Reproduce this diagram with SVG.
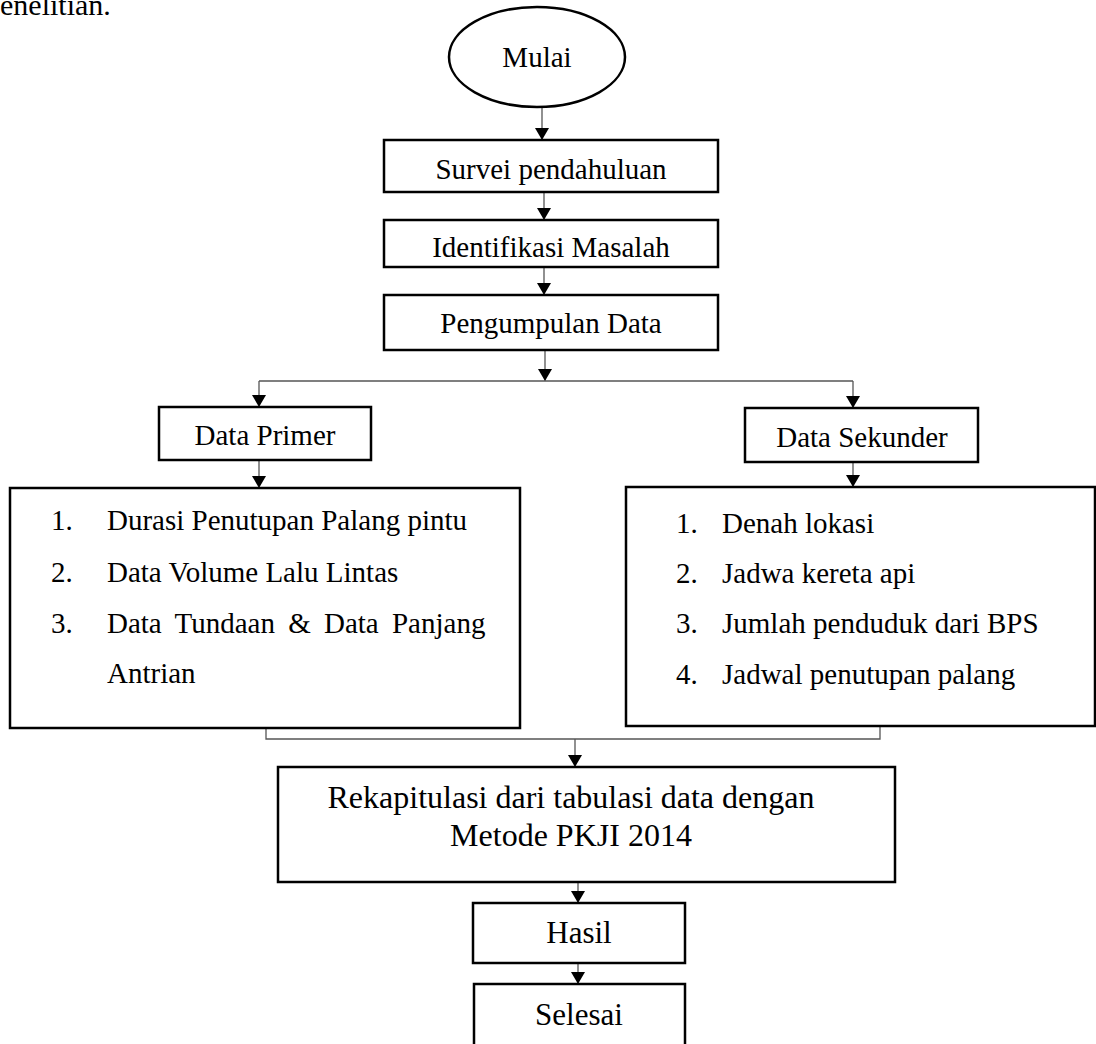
<svg xmlns="http://www.w3.org/2000/svg" width="1096" height="1044" viewBox="0 0 1096 1044">
<style>
text{font-family:"Liberation Serif","Times New Roman",serif;fill:#000}
.t{font-size:29px;text-anchor:middle}
.i{font-size:29px}
.box{fill:#fff;stroke:#000;stroke-width:2.5}
.c{fill:none;stroke:#555;stroke-width:1.3}
</style>
<defs>
<marker id="ah" viewBox="0 0 12 16" refX="12" refY="8" markerWidth="12" markerHeight="16" markerUnits="userSpaceOnUse" orient="auto">
<path d="M0,1 L12,8 L0,15 Z" fill="#000"/>
</marker>
</defs>
<rect width="1096" height="1044" fill="#fff"/>
<text x="0" y="15" class="i" style="font-size:30px">enelitian.</text>

<g id="connectors">
<path class="c" d="M542,107 V140" marker-end="url(#ah)"/>
<path class="c" d="M544,192 V220" marker-end="url(#ah)"/>
<path class="c" d="M544,267 V295" marker-end="url(#ah)"/>
<path class="c" d="M545,350 V381" marker-end="url(#ah)"/>
<path class="c" d="M259,381 H853"/>
<path class="c" d="M259,381 V407" marker-end="url(#ah)"/>
<path class="c" d="M853,381 V408" marker-end="url(#ah)"/>
<path class="c" d="M259,460 V488" marker-end="url(#ah)"/>
<path class="c" d="M853,462 V487" marker-end="url(#ah)"/>
<path class="c" d="M266,728 V739 H880 V726"/>
<path class="c" d="M575,739 V767" marker-end="url(#ah)"/>
<path class="c" d="M578,882 V903" marker-end="url(#ah)"/>
<path class="c" d="M578,963 V984" marker-end="url(#ah)"/>
</g>

<g id="mulai">
<ellipse cx="537" cy="57" rx="88" ry="50" fill="#fff" stroke="#000" stroke-width="2.5"/>
<text x="537" y="67" class="t">Mulai</text>
</g>
<g id="survei">
<rect class="box" x="384" y="140" width="334" height="52"/>
<text x="551" y="179" class="t">Survei pendahuluan</text>
</g>
<g id="identifikasi">
<rect class="box" x="384" y="220" width="334" height="47"/>
<text x="551" y="257" class="t">Identifikasi Masalah</text>
</g>
<g id="pengumpulan">
<rect class="box" x="384" y="295" width="334" height="55"/>
<text x="551" y="333" class="t">Pengumpulan Data</text>
</g>
<g id="data-primer">
<rect class="box" x="159" y="407" width="212" height="53"/>
<text x="265" y="445" class="t">Data Primer</text>
</g>
<g id="data-sekunder">
<rect class="box" x="745" y="408" width="233" height="54"/>
<text x="862" y="447" class="t">Data Sekunder</text>
</g>
<g id="primer-list">
<rect class="box" x="10" y="488" width="510" height="240"/>
<text x="51" y="530" class="i">1.</text><text x="107" y="530" class="i">Durasi Penutupan Palang pintu</text>
<text x="51" y="582" class="i">2.</text><text x="107" y="582" class="i">Data Volume Lalu Lintas</text>
<text x="51" y="633" class="i">3.</text><text x="107" y="633" class="i" word-spacing="6">Data Tundaan &amp; Data Panjang</text>
<text x="107" y="683" class="i">Antrian</text>
</g>
<g id="sekunder-list">
<rect class="box" x="626" y="487" width="469" height="239"/>
<text x="676" y="533" class="i">1.</text><text x="722" y="533" class="i">Denah lokasi</text>
<text x="676" y="583" class="i">2.</text><text x="722" y="583" class="i">Jadwa kereta api</text>
<text x="676" y="633" class="i">3.</text><text x="722" y="633" class="i">Jumlah penduduk dari BPS</text>
<text x="676" y="684" class="i">4.</text><text x="722" y="684" class="i">Jadwal penutupan palang</text>
</g>
<g id="rekapitulasi">
<rect class="box" x="278" y="767" width="617" height="115"/>
<text x="571" y="808" class="t" style="font-size:32px">Rekapitulasi dari tabulasi data dengan</text>
<text x="571" y="846" class="t" style="font-size:32px">Metode PKJI 2014</text>
</g>
<g id="hasil">
<rect class="box" x="473" y="903" width="212" height="60"/>
<text x="579" y="943" class="t" style="font-size:31px">Hasil</text>
</g>
<g id="selesai">
<rect class="box" x="474" y="984" width="211" height="70"/>
<text x="579" y="1025" class="t" style="font-size:31px">Selesai</text>
</g>
</svg>
